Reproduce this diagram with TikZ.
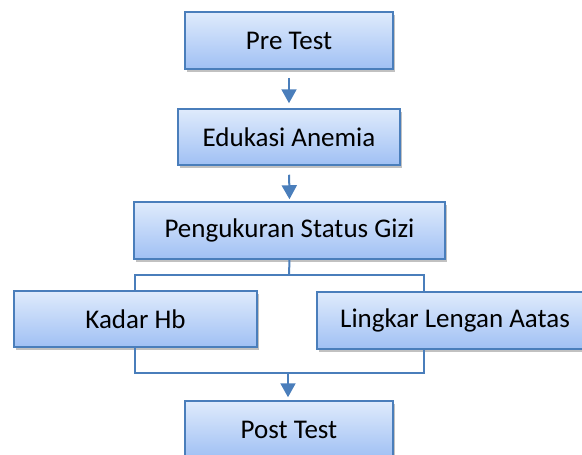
\documentclass[tikz,border=0pt]{standalone}
\usepackage{fontspec}
\setmainfont{Carlito}
\usetikzlibrary{shadows,arrows.meta}
\definecolor{bordc}{HTML}{4A7EBB}
\definecolor{topc}{HTML}{DFEBFC}
\definecolor{botc}{HTML}{A0C0F4}
\tikzset{
  boxstyle/.style={draw=bordc, line width=1.5pt, top color=topc, bottom color=botc,
    drop shadow={shadow xshift=2pt, shadow yshift=-3pt, opacity=0.35, fill=black!70},
    inner sep=0pt, font=\fontsize{27}{32}\selectfont, text=black},
  conn/.style={draw=bordc, line width=2pt},
  arr/.style={conn, -{Triangle[width=15pt,length=14pt]}}
}
\begin{document}
\begin{tikzpicture}[x=1pt,y=-1pt]
\useasboundingbox (0,0) rectangle (582,455);
\clip (0,0) rectangle (582,455);
\node[boxstyle, minimum width=208pt, minimum height=57pt] (pre) at (289,40.5) {Pre Test};
\node[boxstyle, minimum width=222pt, minimum height=56pt] (edu) at (289,137) {Edukasi Anemia};
\node[boxstyle, minimum width=311pt, minimum height=57pt] (peng) at (289.5,230.5) {Pengukuran Status Gizi};
\node[boxstyle, minimum width=243pt, minimum height=56pt] (kadar) at (135.5,319) {Kadar Hb};
\node[boxstyle, minimum width=276pt, minimum height=57pt] (lila) at (455,320.5) {Lingkar Lengan Aatas};
\node[boxstyle, minimum width=208pt, minimum height=57pt] (post) at (289,429.5) {Post Test};

\draw[arr, shorten <=8pt, shorten >=5pt] (pre.south) -- (edu.north);
\draw[arr, shorten <=9pt, shorten >=2pt] (edu.north |- edu.south) -- (peng.north);

\coordinate (jtop) at (289,275);
\coordinate (jl) at (135,275);
\coordinate (jr) at (424,275);
\coordinate (lilatop) at (424,292);
\coordinate (lilabot) at (424,349);
\coordinate (jbot) at (288,373);
\draw[conn] (peng.south) -- (jtop);
\draw[conn] (kadar.north -| jl) -- (jl) -- (jr) -- (lilatop);
\draw[conn] (kadar.south -| jl) |- (jbot) -| (lilabot);
\draw[arr, shorten >=3pt] (jbot) -- (jbot |- post.north);
\end{tikzpicture}
\end{document}
